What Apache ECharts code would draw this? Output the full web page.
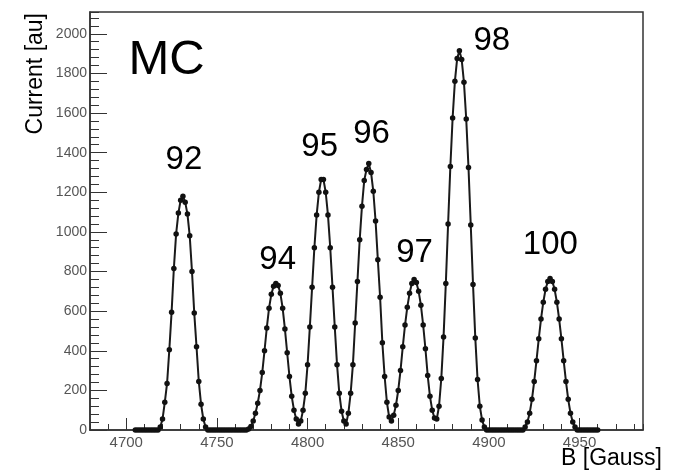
<!DOCTYPE html>
<html>
<head>
<meta charset="utf-8">
<script src="https://cdn.jsdelivr.net/npm/echarts@6/dist/echarts.min.js"></script>
<style>html,body{margin:0;padding:0;background:#fff}#c{width:680px;height:472px}</style>
</head>
<body>
<div id="c"></div>
<script>
// Magnetic field sampling (Gauss): first sample and step
const bStart = 4705;
const bStep = 1.25;
// Current [au] read at each sample, from 4705 G to 4960 G
const current = [
  0, 0, 0, 0, 0, 0, 0, 0, 0, 0, 0,
  15, 55, 140, 235, 405, 595, 815, 990, 1095, 1160, 1180, 1150, 1090, 980, 800, 590, 420, 245, 130, 55, 15,
  0, 0, 0, 0, 0, 0, 0, 0, 0, 0, 0, 0, 0, 0, 0, 0, 0, 0,
  5, 18, 45, 85, 135, 200, 290, 400, 515, 615, 685, 725, 740, 730, 690, 615, 510, 390, 270, 170, 100, 55, 30,
  45, 100, 185, 330, 520, 720, 920, 1085, 1200, 1265, 1265, 1200, 1085, 920, 720, 520, 330, 185, 95, 45, 30,
  85, 185, 330, 540, 750, 960, 1130, 1260, 1315, 1345, 1300, 1205, 1055, 860, 670, 440, 270, 140, 65, 45,
  75, 125, 200, 300, 420, 530, 620, 690, 740, 760, 745, 700, 630, 530, 410, 275, 170, 100, 60, 55,
  120, 260, 470, 740, 1040, 1330, 1575, 1760, 1875, 1915, 1870, 1755, 1570, 1325, 1035, 735, 465, 255, 120, 50, 15,
  0, 0, 0, 0, 0, 0, 0, 0, 0, 0, 0, 0, 0, 0, 0, 0, 0,
  15, 40, 85, 155, 245, 350, 460, 560, 645, 710, 750, 765, 750, 710, 645, 560, 460, 350, 245, 155, 85, 40, 15,
  0, 0, 0, 0, 0, 0, 0, 0, 0, 0
];
// Peak labels (mass numbers) and their anchor positions in data units
const peakNames = ['92', '94', '95', '96', '97', '98', '100'];
const peakLabelB = [4731.8, 4783.5, 4806.7, 4835.3, 4859, 4901.6, 4933.9];
const peakLabelY = [1361, 861, 1427, 1497, 896, 1962, 932];
// Axis ticks
const xLabelTicks = [4700, 4750, 4800, 4850, 4900, 4950];
const yLabelTicks = [0, 200, 400, 600, 800, 1000, 1200, 1400, 1600, 1800, 2000];

const lineData = current.map((v, i) => [bStart + i * bStep, v]);
const labelData = peakNames.map((n, i) => [peakLabelB[i], peakLabelY[i], n]);

const FONT = 'Liberation Sans, Arial, Helvetica, sans-serif';
const AX = '#333';

const chart = echarts.init(document.getElementById('c'), null, {renderer: 'canvas'});
chart.setOption({
  animation: false,
  backgroundColor: '#fff',
  grid: {left: 90, right: 37, top: 12, bottom: 42, show: true, borderColor: AX, borderWidth: 1.5, backgroundColor: 'transparent'},
  xAxis: [
    {
      type: 'value', min: 4680, max: 4985, interval: 10,
      axisLine: {show: true, lineStyle: {color: AX, width: 1.5}},
      axisTick: {show: true, inside: true, length: 6, lineStyle: {color: AX, width: 1}},
      axisLabel: {show: true, customValues: xLabelTicks, formatter: v => String(v), color: '#555', fontSize: 15, fontFamily: FONT, margin: 5},
      splitLine: {show: false}
    },
    {
      type: 'value', min: 4680, max: 4985, position: 'bottom',
      axisLine: {show: false},
      axisTick: {show: true, inside: true, length: 12, customValues: xLabelTicks, lineStyle: {color: AX, width: 1}},
      axisLabel: {show: false},
      splitLine: {show: false}
    }
  ],
  yAxis: [
    {
      type: 'value', min: 0, max: 2110, interval: 40,
      axisLine: {show: true, lineStyle: {color: AX, width: 1.5}},
      axisTick: {show: true, inside: true, length: 9, lineStyle: {color: AX, width: 1}},
      axisLabel: {show: true, customValues: yLabelTicks, formatter: v => String(v), color: '#555', fontSize: 14, fontFamily: FONT, margin: 3},
      splitLine: {show: false}
    },
    {
      type: 'value', min: 0, max: 2110, position: 'left',
      axisLine: {show: false},
      axisTick: {show: true, inside: true, length: 17, customValues: yLabelTicks, lineStyle: {color: AX, width: 1}},
      axisLabel: {show: false},
      splitLine: {show: false}
    }
  ],
  series: [
    {
      type: 'line', xAxisIndex: 0, yAxisIndex: 0,
      data: lineData,
      symbol: 'circle', symbolSize: 5.5, showSymbol: true, showAllSymbol: true,
      lineStyle: {color: '#1a1a1a', width: 2},
      itemStyle: {color: '#111'},
      z: 3
    },
    {
      type: 'scatter', xAxisIndex: 0, yAxisIndex: 0,
      data: labelData,
      symbolSize: 1,
      itemStyle: {color: 'transparent', opacity: 1},
      label: {show: true, position: 'inside', formatter: p => p.data[2], color: '#000', opacity: 1, textBorderWidth: 0, fontSize: 33, fontFamily: FONT},
      emphasis: {disabled: true},
      silent: true, z: 4
    }
  ],
  graphic: [
    {type: 'text', x: 166.5, y: 60, style: {text: 'MC', font: '49px ' + FONT, fill: '#000', textAlign: 'center', textVerticalAlign: 'middle'}},
    {type: 'text', x: 36, y: 13, rotation: Math.PI / 2, style: {text: 'Current [au]', font: '23px ' + FONT, fill: '#000', textAlign: 'right', textVerticalAlign: 'middle'}},
    {type: 'text', x: 662, y: 459, style: {text: 'B [Gauss]', font: '23px ' + FONT, fill: '#000', textAlign: 'right', textVerticalAlign: 'middle'}}
  ]
});
</script>
</body>
</html>
